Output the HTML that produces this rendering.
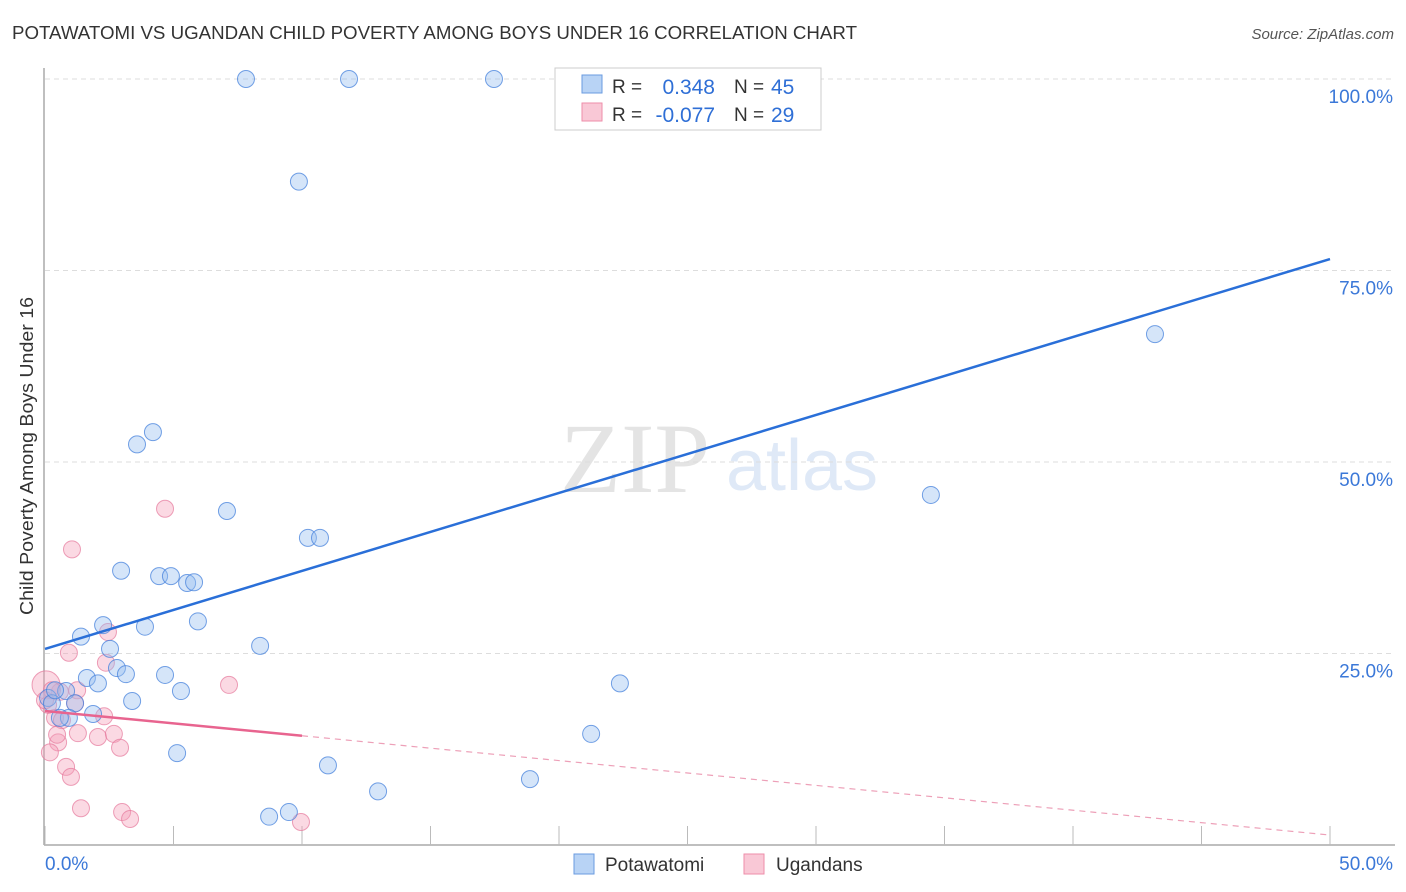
<!DOCTYPE html>
<html><head><meta charset="utf-8"><style>
body{margin:0;background:#fff;font-family:"Liberation Sans",sans-serif}
svg{display:block}
</style></head><body>
<svg id="chart" width="1406" height="892">
<text x="12" y="39" font-size="18" fill="#333" textLength="845" lengthAdjust="spacingAndGlyphs">POTAWATOMI VS UGANDAN CHILD POVERTY AMONG BOYS UNDER 16 CORRELATION CHART</text>
<text x="1394" y="39" font-size="15" fill="#555" font-style="italic" text-anchor="end">Source: ZipAtlas.com</text>
<text x="635" y="492" font-size="100" fill="#e4e4e4" font-family="Liberation Serif,serif" text-anchor="middle">ZIP</text>
<text x="802" y="490" font-size="72" fill="#dfe9f7" text-anchor="middle">atlas</text>
<text transform="translate(33,456) rotate(-90)" font-size="18" fill="#333" text-anchor="middle" textLength="318" lengthAdjust="spacingAndGlyphs">Child Poverty Among Boys Under 16</text>
<g id="grid"></g><g id="axes"></g><g id="marks"></g>
<g>
<rect x="555" y="68" width="266" height="62" fill="#fff" stroke="#ccc"/>
<rect x="582" y="75" width="20" height="18" fill="#b8d3f5" stroke="#6a9be0"/>
<rect x="582" y="103" width="20" height="18" fill="#f9c8d6" stroke="#ee8eaa"/>
<text x="612" y="93" font-size="19" fill="#333">R =</text>
<text x="715" y="94" font-size="21" fill="#2f6fd6" text-anchor="end">0.348</text>
<text x="734" y="93" font-size="19" fill="#333">N =</text>
<text x="771" y="94" font-size="21" fill="#2f6fd6">45</text>
<text x="612" y="121" font-size="19" fill="#333">R =</text>
<text x="715" y="122" font-size="21" fill="#2f6fd6" text-anchor="end">-0.077</text>
<text x="734" y="121" font-size="19" fill="#333">N =</text>
<text x="771" y="122" font-size="21" fill="#2f6fd6">29</text>
</g>
<g>
<rect x="574" y="854" width="20" height="20" fill="#b8d3f5" stroke="#6a9be0"/>
<text x="605" y="871" font-size="19" fill="#333">Potawatomi</text>
<rect x="744" y="854" width="20" height="20" fill="#f9c8d6" stroke="#ee8eaa"/>
<text x="776" y="871" font-size="19" fill="#333">Ugandans</text>
</g>
</svg>
<script>
const yTicks=[25,50,75,100];
const yTickLabels=["25.0%","50.0%","75.0%","100.0%"];
const xTicks=[0,5,10,15,20,25,30,35,40,45,50];
const blueX=[7.82,11.83,17.47,9.88,4.20,3.58,7.08,10.23,10.70,2.96,4.44,4.90,5.53,5.80,2.26,3.89,5.95,1.40,2.53,8.37,2.80,3.15,4.67,1.63,2.06,5.29,0.82,0.12,0.27,1.17,1.87,0.93,0.58,3.39,5.14,11.01,12.96,8.72,9.49,18.87,21.25,22.37,34.47,43.19,0.39];
const blueY=[100,100,100,86.6,53.9,52.3,43.6,40.1,40.1,35.8,35.1,35.1,34.2,34.3,28.7,28.5,29.2,27.2,25.6,26.0,23.1,22.3,22.2,21.8,21.1,20.1,20.1,19.2,18.5,18.5,17.1,16.6,16.6,18.8,12.0,10.4,7.0,3.7,4.3,8.6,14.5,21.1,45.7,66.7,20.2];
const pinkX=[1.05,4.67,0.93,2.45,2.37,7.16,1.25,1.17,0.58,0.04,0.39,2.30,2.06,2.68,2.92,1.28,0.51,0.19,0.82,1.01,1.40,3.00,3.31,9.96,0.12,0.66,0.47,0.27,0.0];
const pinkY=[38.6,43.9,25.1,27.8,23.8,20.9,20.2,18.5,20.0,20.9,16.6,16.8,14.1,14.5,12.7,14.6,13.4,12.1,10.2,8.9,4.8,4.3,3.4,3.0,18.3,16.3,14.4,20.2,18.9];
const blueTrend=[25.6,76.5];
const pinkTrend=[17.5,1.3];
const pinkSolidEnd=10;
const NS="http://www.w3.org/2000/svg";
const X=v=>45+v*25.7, Y=v=>845-v*7.66;
function mk(tag,attrs,parent){const e=document.createElementNS(NS,tag);for(const k in attrs)e.setAttribute(k,attrs[k]);document.getElementById(parent).appendChild(e);return e;}
yTicks.forEach((t,i)=>{
 const g=mk('line',{x1:45,x2:1395,y1:Y(t),y2:Y(t),stroke:'#ddd','stroke-dasharray':'5,4'},'grid');
 
 
 const l=mk('text',{x:1393,y:Y(t)+24,'font-size':19,fill:'#3b78d8','text-anchor':'end'},'grid');
 l.textContent=yTickLabels[i];
 
 
});
const a1=mk('line',{x1:44,x2:44,y1:68,y2:845,stroke:'#aaa','stroke-width':1.5},'axes');


const a2=mk('line',{x1:44,x2:1395,y1:845,y2:845,stroke:'#aaa','stroke-width':1.5},'axes');


xTicks.forEach(t=>{const e=mk('line',{x1:X(t),x2:X(t),y1:826,y2:845,stroke:'#bbb'},'axes');
 
 });
const xl0=mk('text',{x:45,y:870,'font-size':19,fill:'#3b78d8'},'axes');xl0.textContent='0.0%';


const xl1=mk('text',{x:1393,y:870,'font-size':19,fill:'#3b78d8','text-anchor':'end'},'axes');xl1.textContent='50.0%';


pinkX.forEach((x,i)=>{const c=mk('circle',{cx:X(x),cy:Y(pinkY[i]),r:(i===9?14:8.5),fill:'rgba(245,160,185,0.4)',stroke:'rgba(230,120,155,0.7)','stroke-width':1},'marks');
 
 });
blueX.forEach((x,i)=>{const c=mk('circle',{cx:X(x),cy:Y(blueY[i]),r:8.5,fill:'rgba(150,190,240,0.4)',stroke:'rgba(70,130,220,0.75)','stroke-width':1},'marks');
 
 });
const bl=mk('line',{x1:X(0),y1:Y(blueTrend[0]),x2:X(50),y2:Y(blueTrend[1]),stroke:'#2a6fd8','stroke-width':2.5},'marks');


const pe=pinkTrend[0]+(pinkTrend[1]-pinkTrend[0])*pinkSolidEnd/50;
const ps=mk('line',{x1:X(0),y1:Y(pinkTrend[0]),x2:X(pinkSolidEnd),y2:Y(pe),stroke:'#e8648f','stroke-width':2.5},'marks');


const pd=mk('line',{x1:X(pinkSolidEnd),y1:Y(pe),x2:X(50),y2:Y(pinkTrend[1]),stroke:'#eda0b8','stroke-width':1.2,'stroke-dasharray':'6,5'},'marks');


</script>
</body></html>
